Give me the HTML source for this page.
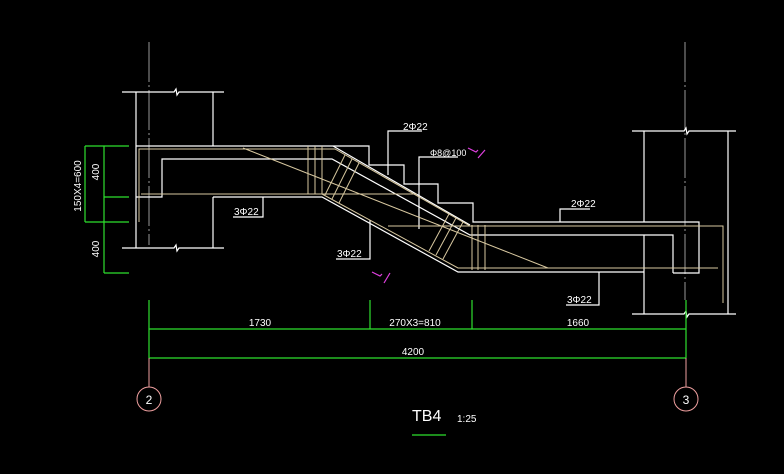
<!DOCTYPE html>
<html><head><meta charset="utf-8"><style>
html,body{margin:0;padding:0;background:#000;}
svg{display:block;}
text{font-family:"Liberation Sans Narrow","Liberation Sans",sans-serif;fill:#fff;}
</style></head><body>
<svg width="784" height="474" viewBox="0 0 784 474" xmlns="http://www.w3.org/2000/svg">
<rect width="784" height="474" fill="#000"/>
<g stroke="#999" stroke-width="1" fill="none">
<line x1="149" y1="42" x2="149" y2="245" stroke-dasharray="40 3 2 3"/>
<line x1="685" y1="42" x2="685" y2="300" stroke-dasharray="40 3 2 3"/>
</g>
<g stroke="#fff" stroke-width="1.2" fill="none">
<polyline points="122,92 174,92 176,89 177,95 179,92 224,92"/>
<polyline points="122,248 174,248 176,245 177,251 179,248 224,248"/>
<line x1="136" y1="92" x2="136" y2="248"/>
<line x1="213" y1="92" x2="213" y2="146"/>
<line x1="213" y1="197" x2="213" y2="248"/>
<polyline points="136,146 369,146 369,165 404,165 404,184 438,184 438,203 473,203 473,222 699,222 699,273 673,273"/>
<polyline points="136,197 162,197 162,159 332,159 470,235 673,235 673,273"/>
<polyline points="213,197 322,197 458,272 644,272"/>
<line x1="333" y1="146" x2="470" y2="225"/>
<polyline points="632,131 684,131 686,128 687,134 689,131 736,131"/>
<polyline points="632,314 684,314 686,311 687,317 689,314 736,314"/>
<line x1="644" y1="131" x2="644" y2="222"/>
<line x1="644" y1="235" x2="644" y2="314"/>
<line x1="728" y1="131" x2="728" y2="314"/>
<polyline points="422,131 388,131 388,175"/>
<polyline points="458,157 419,157 419,229"/>
<polyline points="233,217 263,217 263,197"/>
<polyline points="336,259 370,259 370,220"/>
<polyline points="590,209 560,209 560,222"/>
<polyline points="566,305 599,305 599,272"/>
</g>
<g stroke="#d8c8a0" stroke-width="1" fill="none">
<polyline points="139,222 139,149 335,149 470,226 723,226 723,303"/>
<line x1="141" y1="194" x2="417" y2="194"/>
<line x1="243" y1="148" x2="548" y2="268"/>
<polyline points="322,194 458,268 718,268"/>
<line x1="388" y1="226" x2="470" y2="226"/>
<line x1="308" y1="146" x2="308" y2="194"/>
<line x1="315" y1="146" x2="315" y2="194"/>
<line x1="322" y1="146" x2="322" y2="194"/>
<line x1="472" y1="225" x2="472" y2="270"/>
<line x1="478" y1="225" x2="478" y2="270"/>
<line x1="485" y1="225" x2="485" y2="270"/>
<line x1="345" y1="155" x2="325" y2="195"/>
<line x1="352" y1="159" x2="332" y2="199"/>
<line x1="359" y1="163" x2="339" y2="203"/>
<line x1="463" y1="222" x2="443" y2="259"/>
<line x1="456" y1="218" x2="436" y2="255"/>
<line x1="449" y1="214" x2="429" y2="251"/>
</g>
<g stroke="#e040e0" stroke-width="1.2" fill="none">
<polyline points="468,148 476,152 478,150"/><line x1="485" y1="150" x2="478" y2="158"/>
<polyline points="372,272 380,276 382,274"/><line x1="390" y1="273" x2="384" y2="283"/>
</g>
<g font-size="10">
<text x="403" y="130">2Φ22</text>
<text x="430" y="156" font-size="9">Φ8@100</text>
<text x="234" y="215">3Φ22</text>
<text x="337" y="257">3Φ22</text>
<text x="571" y="207">2Φ22</text>
<text x="567" y="303">3Φ22</text>
</g>
<g stroke="#2ee02e" stroke-width="1.2" fill="none">
<line x1="85" y1="146" x2="85" y2="222"/>
<line x1="104" y1="146" x2="104" y2="273"/>
<line x1="85" y1="146" x2="129" y2="146"/>
<line x1="104" y1="197" x2="129" y2="197"/>
<line x1="85" y1="222" x2="129" y2="222"/>
<line x1="104" y1="273" x2="129" y2="273"/>
<line x1="149" y1="300" x2="149" y2="358"/>
<line x1="370" y1="300" x2="370" y2="329"/>
<line x1="472" y1="300" x2="472" y2="329"/>
<line x1="686" y1="300" x2="686" y2="358"/>
<line x1="149" y1="329" x2="686" y2="329"/>
<line x1="149" y1="358" x2="686" y2="358"/>
<line x1="412" y1="435" x2="446" y2="435"/>
</g>
<g font-size="10">
<text transform="translate(81,186) rotate(-90)" text-anchor="middle">150X4=600</text>
<text transform="translate(99,172) rotate(-90)" text-anchor="middle">400</text>
<text transform="translate(99,249) rotate(-90)" text-anchor="middle">400</text>
<text x="260" y="326" text-anchor="middle">1730</text>
<text x="415" y="326" text-anchor="middle">270X3=810</text>
<text x="578" y="326" text-anchor="middle">1660</text>
<text x="413" y="355" text-anchor="middle">4200</text>
</g>
<g stroke="#f0a0a0" stroke-width="1" fill="none">
<line x1="149" y1="358" x2="149" y2="387"/>
<line x1="686" y1="358" x2="686" y2="387"/>
<circle cx="149" cy="399" r="12"/>
<circle cx="686" cy="399" r="12"/>
</g>
<text x="149" y="404" font-size="12" text-anchor="middle">2</text>
<text x="686" y="404" font-size="12" text-anchor="middle">3</text>
<text x="412" y="421" font-size="16">TB4</text>
<text x="457" y="422" font-size="10">1:25</text>
</svg>
</body></html>
